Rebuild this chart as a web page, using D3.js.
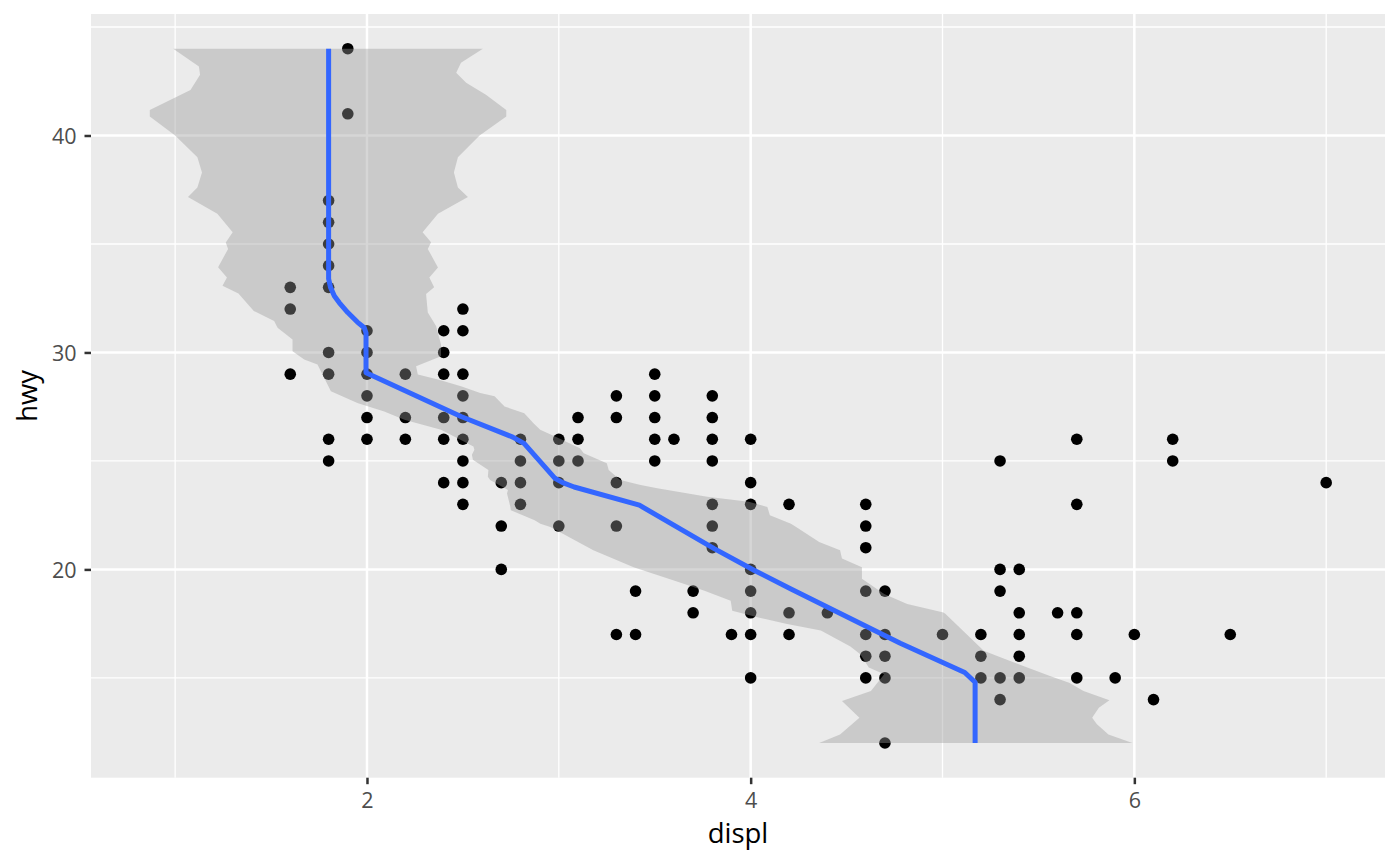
<!DOCTYPE html>
<html>
<head>
<meta charset="utf-8">
<script src="https://cdn.jsdelivr.net/npm/d3@7"></script>
<style>
    body { margin: 0; background: #ffffff; }
    svg { display: block; font-family: "Open Sans", "Noto Sans", sans-serif; }
</style>
</head>
<body>
<div id="chart"></div>
<script>
// mpg: hwy against displ, with a y-oriented loess smooth
const displValues = [1.6, 1.8, 1.9, 2.0, 2.2, 2.4, 2.5, 2.7, 2.8, 3.0, 3.1, 3.3, 3.4, 3.5, 3.6, 3.7, 3.8, 3.9,
    4.0, 4.2, 4.4, 4.6, 4.7, 5.0, 5.2, 5.3, 5.4, 5.6, 5.7, 5.9, 6.0, 6.1, 6.2, 6.5, 7.0]
const hwyByDispl = [
    [33, 32, 29],
    [37, 36, 35, 34, 33, 30, 29, 26, 25],
    [44, 41],
    [31, 30, 29, 28, 27, 26],
    [29, 27, 26],
    [31, 30, 29, 27, 26, 24],
    [32, 31, 29, 28, 27, 26, 25, 24, 23],
    [24, 22, 20],
    [26, 25, 24, 23],
    [26, 25, 24, 22],
    [27, 26, 25],
    [28, 27, 24, 22, 17],
    [19, 17],
    [29, 28, 27, 26, 25],
    [26],
    [19, 18],
    [28, 27, 26, 25, 23, 22, 21],
    [17],
    [26, 24, 23, 20, 19, 18, 17, 15],
    [23, 18, 17],
    [18],
    [23, 22, 21, 19, 17, 16, 15],
    [19, 17, 16, 15, 12],
    [17],
    [17, 16, 15],
    [25, 20, 19, 15, 14],
    [20, 18, 17, 16, 15],
    [18],
    [26, 23, 18, 17, 15],
    [15],
    [17],
    [14],
    [26, 25],
    [17],
    [24]
]

// fitted displ for each hwy
const smoothHwy = [12, 14.8, 15.25, 16.6, 19.1, 19.95, 20.96, 22.96, 23.8, 24.0, 24.2, 25.8, 26.1, 27.05,
    29.06, 30.9, 31.14, 31.4, 31.84, 32.3, 32.6, 33.0, 33.4, 44]
const smoothDispl = [5.17, 5.17, 5.116, 4.78, 4.21, 4.02, 3.81, 3.42, 3.08, 3.02, 2.98, 2.82, 2.76, 2.49,
    1.995, 1.995, 1.986, 1.95, 1.90, 1.855, 1.83, 1.81, 1.80, 1.80]

// confidence band: [hwy, displ] on the low side and the high side
const bandLow = [
    [12, 4.357], [12.39, 4.466], [13.16, 4.567], [13.94, 4.476], [14.4, 4.627], [15.17, 4.696],
    [15.48, 4.616], [16.1, 4.57], [16.45, 4.52], [17.18, 4.366], [17.49, 4.19], [17.8, 4.035],
    [18.1, 3.904], [18.56, 3.896], [19.03, 3.756], [19.49, 3.60], [20.1, 3.39], [20.88, 3.18],
    [21.96, 2.956], [22.1, 2.904], [22.27, 2.874], [22.73, 2.75], [22.9, 2.747], [23.5, 2.73],
    [23.66, 2.735], [24.12, 2.642], [24.27, 2.63], [24.58, 2.633], [25.05, 2.552], [25.28, 2.547],
    [25.51, 2.56], [25.66, 2.555], [26.44, 2.386], [26.9, 2.195], [27.28, 2.09], [27.67, 1.95],
    [28.21, 1.812], [29.44, 1.742], [29.68, 1.673], [30.06, 1.612], [30.6, 1.612], [31.14, 1.534],
    [31.45, 1.516], [31.91, 1.41], [32.72, 1.33], [33.07, 1.247], [33.46, 1.27], [33.93, 1.224],
    [34.77, 1.276], [35.07, 1.264], [35.54, 1.30], [36.39, 1.22], [37.16, 1.067], [37.6, 1.116],
    [38.3, 1.14], [39.0, 1.116], [40.0, 1.0], [40.87, 0.868], [41.17, 0.868], [42.1, 1.08],
    [42.8, 1.13], [43.18, 1.124], [44, 0.99]
]
const bandHigh = [
    [12, 5.99], [12.39, 5.865], [12.86, 5.805], [13.16, 5.78], [13.62, 5.815], [13.97, 5.87],
    [14.4, 5.735], [14.78, 5.66], [15.09, 5.56], [15.94, 5.305], [16.25, 5.215], [17.95, 5.016],
    [18.02, 5.005], [18.41, 4.816], [18.87, 4.696], [19.57, 4.58], [20.1, 4.58], [20.5, 4.476],
    [20.88, 4.466], [21.26, 4.357], [21.96, 4.237], [22.1, 4.21], [22.5, 4.10], [22.88, 4.087],
    [23.12, 3.99], [23.35, 3.773], [23.74, 3.513], [23.89, 3.426], [24.12, 3.32], [24.58, 3.26],
    [24.89, 3.25], [25.36, 3.13], [25.59, 3.11], [26.05, 3.0], [26.44, 2.903], [26.74, 2.868],
    [27.2, 2.82], [27.51, 2.717], [27.98, 2.665], [28.13, 2.59], [28.44, 2.49], [28.75, 2.37],
    [28.98, 2.265], [29.37, 2.256], [29.83, 2.386], [30.37, 2.386], [31.22, 2.36], [31.84, 2.317],
    [32.69, 2.308], [33.0, 2.35], [33.46, 2.325], [33.92, 2.37], [34.77, 2.317], [35.08, 2.334],
    [35.54, 2.29], [36.39, 2.37], [37.16, 2.526], [37.6, 2.474], [38.3, 2.453], [39.0, 2.474],
    [40.0, 2.587], [40.87, 2.726], [41.17, 2.726], [41.88, 2.62], [42.43, 2.517], [42.89, 2.465],
    [43.35, 2.49], [44, 2.604]
]

const xTicks = [2, 4, 6]
const yTicks = [20, 30, 40]
const xMinor = [1, 3, 5, 7]
const yMinor = [15, 25, 35, 45]

const width = 1400
const height = 866
const panel = {left: 91, right: 1385, top: 14, bottom: 777.7}

const points = []
displValues.forEach(function(d, i) {
    hwyByDispl[i].forEach(function(h) {
        points.push({displ: d, hwy: h})
    })
})

// ggplot style 5% expansion of the data range
function expanded(values) {
    const ext = d3.extent(values)
    const pad = (ext[1] - ext[0]) * 0.05
    return [ext[0] - pad, ext[1] + pad]
}

const allX = points.map(p => p.displ).concat(bandLow.map(b => b[1]), bandHigh.map(b => b[1]))
const allY = points.map(p => p.hwy).concat(smoothHwy)

const x = d3.scaleLinear().domain(expanded(allX)).range([panel.left, panel.right])
const y = d3.scaleLinear().domain(expanded(allY)).range([panel.bottom, panel.top])

const svg = d3.select("#chart").append("svg")
    .attr("width", width)
    .attr("height", height)

svg.append("rect")
    .attr("x", panel.left)
    .attr("y", panel.top)
    .attr("width", panel.right - panel.left)
    .attr("height", panel.bottom - panel.top)
    .attr("fill", "#ebebeb")

const grid = svg.append("g")
grid.selectAll(".xminor").data(xMinor.filter(v => x(v) > panel.left && x(v) < panel.right)).join("line")
    .attr("x1", d => x(d)).attr("x2", d => x(d))
    .attr("y1", panel.top).attr("y2", panel.bottom)
    .attr("stroke", "#ffffff").attr("stroke-width", 1.3)
grid.selectAll(".yminor").data(yMinor.filter(v => y(v) > panel.top && y(v) < panel.bottom)).join("line")
    .attr("y1", d => y(d)).attr("y2", d => y(d))
    .attr("x1", panel.left).attr("x2", panel.right)
    .attr("stroke", "#ffffff").attr("stroke-width", 1.3)
grid.selectAll(".xmajor").data(xTicks).join("line")
    .attr("x1", d => x(d)).attr("x2", d => x(d))
    .attr("y1", panel.top).attr("y2", panel.bottom)
    .attr("stroke", "#ffffff").attr("stroke-width", 2.5)
grid.selectAll(".ymajor").data(yTicks).join("line")
    .attr("y1", d => y(d)).attr("y2", d => y(d))
    .attr("x1", panel.left).attr("x2", panel.right)
    .attr("stroke", "#ffffff").attr("stroke-width", 2.5)

svg.append("g").selectAll("circle").data(points).join("circle")
    .attr("cx", d => x(d.displ))
    .attr("cy", d => y(d.hwy))
    .attr("r", 5.8)
    .attr("fill", "#000000")

// band drawn over the points, like geom_smooth does
const bandPath = bandLow.concat(bandHigh.slice().reverse())
svg.append("path")
    .attr("d", d3.line().x(d => x(d[1])).y(d => y(d[0]))(bandPath) + "Z")
    .attr("fill", "#999999")
    .attr("fill-opacity", 0.4)

const smooth = smoothHwy.map((h, i) => [smoothDispl[i], h])
svg.append("path")
    .attr("d", d3.line().x(d => x(d[0])).y(d => y(d[1]))(smooth))
    .attr("fill", "none")
    .attr("stroke", "#3366ff")
    .attr("stroke-width", 5)
    .attr("stroke-linejoin", "round")

// axes
const xAxis = svg.append("g")
    .attr("transform", `translate(0,${panel.bottom})`)
    .call(d3.axisBottom(x).tickValues(xTicks).tickFormat(d3.format("d")).tickSize(6.5))
const yAxis = svg.append("g")
    .attr("transform", `translate(${panel.left},0)`)
    .call(d3.axisLeft(y).tickValues(yTicks).tickFormat(d3.format("d")).tickSize(6.5))

;[xAxis, yAxis].forEach(function(ax) {
    ax.select(".domain").remove()
    ax.selectAll(".tick line").attr("stroke", "#333333").attr("stroke-width", 2.5)
    ax.selectAll(".tick text")
        .attr("fill", "#4d4d4d")
        .style("font-size", "21.5px")
        .style("font-family", "'Open Sans', 'Noto Sans', sans-serif")
})
xAxis.selectAll(".tick text").attr("y", 30.5).attr("dy", 0)
yAxis.selectAll(".tick text").attr("x", -14.5).attr("dy", "0.36em")

svg.append("text")
    .attr("x", (panel.left + panel.right) / 2)
    .attr("y", 843)
    .attr("text-anchor", "middle")
    .style("font-size", "27.5px")
    .attr("fill", "#000000")
    .text("displ")

svg.append("text")
    .attr("transform", `translate(36.5,${(panel.top + panel.bottom) / 2}) rotate(-90)`)
    .attr("text-anchor", "middle")
    .style("font-size", "27.5px")
    .attr("fill", "#000000")
    .text("hwy")
</script>
</body>
</html>
